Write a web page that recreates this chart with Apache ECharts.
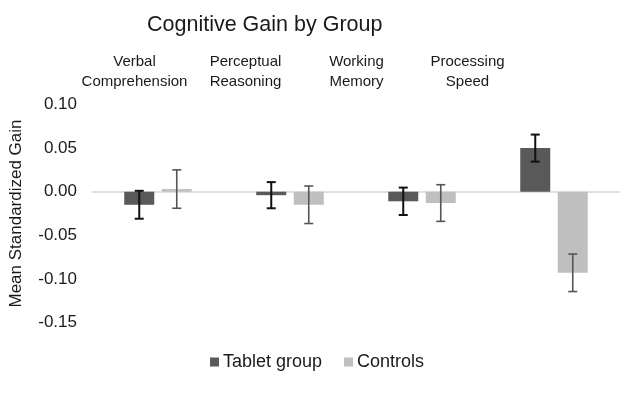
<!DOCTYPE html>
<html>
<head>
<meta charset="utf-8">
<script src="https://cdn.jsdelivr.net/npm/echarts@6/dist/echarts.min.js"></script>
<style>html,body{margin:0;padding:0;background:#fff}#c{width:620px;height:407px}</style>
</head>
<body>
<div id="c"></div>
<script>
var categories = ['Verbal Comprehension', 'Perceptual Reasoning', 'Working Memory', 'Processing Speed'];
var tabletValues = [-0.015, -0.004, -0.011, 0.050];
var tabletErrors = [0.016, 0.015, 0.0157, 0.0155];
var controlValues = [0.003, -0.015, -0.013, -0.093];
var controlErrors = [0.022, 0.0215, 0.021, 0.0215];
var yTicks = { min: -0.15, max: 0.10, interval: 0.05 };

var FONT = 'Arial, "Liberation Sans", sans-serif';
var BAR_W = 30;
var GAP = 0.25;

function errorSeries(name, values, errors, dir, color, lw) {
  return {
    type: 'custom',
    name: name + ' err',
    xAxisIndex: 0, yAxisIndex: 0,
    z: 5,
    silent: true,
    data: values.map(function (v, i) { return [i, v - errors[i], v + errors[i]]; }),
    encode: { x: 0, y: [1, 2] },
    renderItem: function (params, api) {
      var xi = api.value(0);
      var lo = api.coord([xi, api.value(1)]);
      var hi = api.coord([xi, api.value(2)]);
      var off = dir * (BAR_W + BAR_W * GAP) / 2;
      var x = lo[0] + off;
      var cap = 4.5;
      var st = { stroke: color, lineWidth: lw };
      return {
        type: 'group',
        children: [
          { type: 'line', shape: { x1: x, y1: lo[1], x2: x, y2: hi[1] }, style: st },
          { type: 'line', shape: { x1: x - cap, y1: lo[1], x2: x + cap, y2: lo[1] }, style: st },
          { type: 'line', shape: { x1: x - cap, y1: hi[1], x2: x + cap, y2: hi[1] }, style: st }
        ]
      };
    }
  };
}

var chart = echarts.init(document.getElementById('c'));
chart.setOption({
  backgroundColor: '#fff',
  animation: false,
  textStyle: { fontFamily: FONT },
  title: {
    text: 'Cognitive Gain by Group',
    left: 142, top: 9,
    textStyle: { fontFamily: FONT, fontSize: 21.5, fontWeight: 'normal', color: '#1a1a1a' }
  },
  legend: {
    data: ['Tablet group', 'Controls'],
    left: 205, top: 348,
    itemWidth: 9, itemHeight: 9, itemGap: 22,
    icon: 'rect',
    textStyle: { fontFamily: FONT, fontSize: 18, color: '#1a1a1a', padding: [0, 0, 0, -1] }
  },
  grid: [
    { left: 92, width: 529, top: 104.5, bottom: 84.5 },
    { left: 79, width: 444, top: 95, height: 1 }
  ],
  xAxis: [
    {
      type: 'category', gridIndex: 0, data: categories,
      axisLine: { onZero: true, lineStyle: { color: '#d9d9d9', width: 1.5 } },
      axisTick: { show: false }, axisLabel: { show: false }, splitLine: { show: false }
    },
    {
      type: 'category', gridIndex: 1, data: categories, position: 'top',
      axisLine: { show: false }, axisTick: { show: false },
      axisLabel: {
        margin: 3, fontFamily: FONT, fontSize: 15, lineHeight: 20, color: '#1a1a1a',
        interval: 0,
        formatter: function (v) { return v.replace(' ', '\n'); }
      }
    }
  ],
  yAxis: [
    {
      type: 'value', gridIndex: 0,
      min: yTicks.min, max: yTicks.max, interval: yTicks.interval,
      axisLine: { show: false }, axisTick: { show: false }, splitLine: { show: false },
      axisLabel: {
        margin: 15, fontFamily: FONT, fontSize: 17, color: '#1a1a1a',
        formatter: function (v) { return v.toFixed(2); }
      },
      name: 'Mean Standardized Gain',
      nameLocation: 'middle', nameRotate: 90, nameGap: 67,
      nameTextStyle: { fontFamily: FONT, fontSize: 17, color: '#1a1a1a' }
    },
    { type: 'value', gridIndex: 1, show: false }
  ],
  series: [
    {
      name: 'Tablet group', type: 'bar', xAxisIndex: 0, yAxisIndex: 0,
      data: tabletValues, barWidth: BAR_W, barGap: '25%',
      itemStyle: { color: '#595959' }
    },
    {
      name: 'Controls', type: 'bar', xAxisIndex: 0, yAxisIndex: 0,
      data: controlValues, barWidth: BAR_W, barGap: '25%',
      itemStyle: { color: '#bfbfbf' }
    },
    errorSeries('Tablet group', tabletValues, tabletErrors, -1, '#111', 2),
    errorSeries('Controls', controlValues, controlErrors, 1, '#555', 1.6)
  ]
});
</script>
</body>
</html>
